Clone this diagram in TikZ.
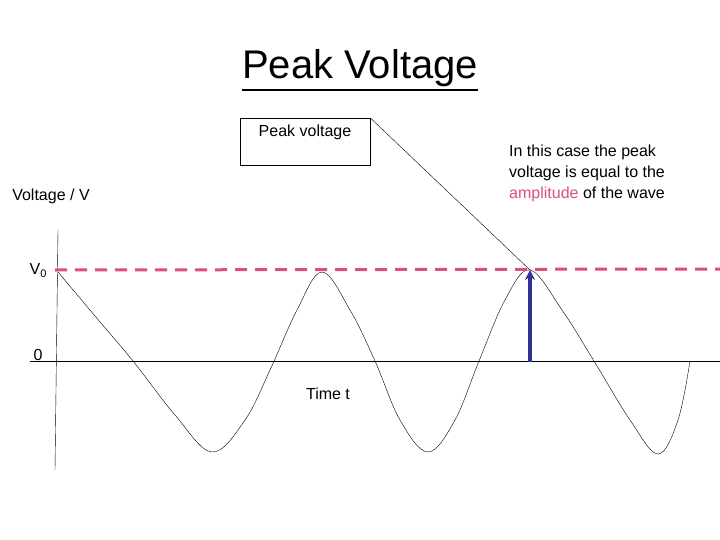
\documentclass[tikz,border=0pt]{standalone}
\usepackage{fontspec}
\setmainfont{Liberation Sans}
\usetikzlibrary{arrows.meta}
\definecolor{pinkd}{RGB}{220,80,115}
\definecolor{bluea}{RGB}{50,50,150}
\begin{document}
\begin{tikzpicture}[x=1pt,y=-1pt,
  lbl/.style={inner sep=0pt,font=\fontsize{16}{19}\selectfont}]
\useasboundingbox (0,0) rectangle (720,540);
\node[inner sep=0pt,font=\fontsize{40}{44}\selectfont] (title) at (360,68) {Peak Voltage};
\draw[line width=1.5pt] ([yshift=-3pt]title.south west) -- ([yshift=-3pt]title.south east);
\node[draw,minimum width=130,minimum height=47,anchor=north west,inner sep=0pt] (box) at (240,118) {};
\node[lbl] (boxt) at (305,132) {Peak voltage};
\node[lbl,align=left,anchor=north west,font=\fontsize{16}{21}\selectfont] (note) at (509,145) {In this case the peak\\voltage is equal to the\\\textcolor{pinkd}{amplitude} of the wave};
\node[lbl] (vlab) at (51,196) {Voltage / V};
\node[lbl] (v0) at (38,271) {V\raisebox{-3pt}{\fontsize{11}{12}\selectfont 0}};
\node[lbl] (zero) at (38,355) {0};
\node[lbl] (tlab) at (328,394) {Time t};
\coordinate (ya) at (58,230); \coordinate (yb) at (55,470);
\draw (ya) -- (yb);
\coordinate (xa) at (30,361); \coordinate (xb) at (720,361);
\draw (xa) -- (xb);
\draw[thin] plot[smooth,tension=0.6] coordinates {(58,272) (95,316) (133,361) (175,415) (212,452) (245,420) (270,370) (297,310) (322,272) (350,310) (375,361) (400,420) (428,452) (455,420) (479,361) (505,300) (530,270) (562,310) (594,361) (630,420) (658,454) (678,420) (690,361)};
\coordinate (da) at (55,270); \coordinate (db) at (720,269);
\draw[pinkd,line width=3pt,dash pattern=on 12pt off 8pt] (da) -- (db);
\coordinate (arb) at (530,362); \coordinate (art) at (530,270);
\draw[bluea,line width=3.5pt,-{Stealth[length=10pt,width=10pt]}] (arb) -- (art);
\draw (box.north east) -- (art);
\end{tikzpicture}
\end{document}
